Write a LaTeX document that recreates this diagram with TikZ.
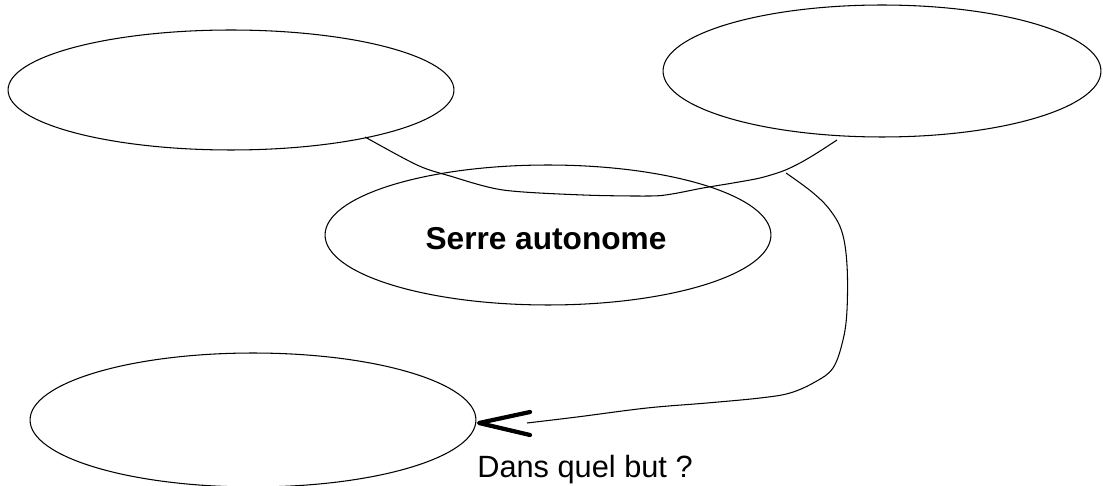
\documentclass[tikz,border=0pt]{standalone}
\usepackage{fontspec}
\setmainfont{Liberation Sans}
\usetikzlibrary{shapes.geometric,calc}
\begin{document}
\begin{tikzpicture}[x=0.02cm,y=-0.02cm,
  oval/.style={draw, ellipse, line width=0.6pt, inner sep=0pt},
  wire/.style={line width=0.6pt},
  chevron/.style={line width=2.4pt, line cap=round, line join=round}]
\useasboundingbox (0,0) rectangle (1103,486);
\node[oval, minimum width=8.92cm, minimum height=2.4cm] (tl) at (231,90) {};
\node[oval, minimum width=8.76cm, minimum height=2.64cm] (tr) at (882,71) {};
\node[oval, minimum width=8.92cm, minimum height=2.8cm] (mid) at (548,235) {};
\node[font=\fontsize{18}{20}\selectfont\bfseries, anchor=base] (lab) at (546,250) {Serre autonome};
\node[oval, minimum width=8.92cm, minimum height=2.68cm] (bl) at (253,420) {};
\node[font=\fontsize{17.5}{19}\selectfont, anchor=base west, inner sep=0pt] (q) at (477,478) {Dans quel but ?};
% connector 1 between top ellipses
\coordinate (a1) at (365,137);
\coordinate (a2) at (837,140);
\draw[wire] plot[smooth, tension=0.5] coordinates {(a1) (417,165) (450,176) (503,190) (583,195) (650,196) (672,194) (703,188) (733,183) (760,178) (783,171) (800,163) (817,153) (a2)};
% connector 2 towards bottom ellipse
\coordinate (b1) at (786,173);
\coordinate (b2) at (527,423);
\coordinate (tip) at (479,423);
\draw[wire] plot[smooth, tension=0.6] coordinates {(b1) (812,192) (830,210) (842,232) (847,265) (847,310) (843,340) (833,368) (815,382) (790,393) (760,398) (707,403) (647,408) (577,417) (b2)};
\draw[chevron] ($(tip)+(51,-11)$) -- (tip) -- ($(tip)+(51,12)$);
\end{tikzpicture}
\end{document}
